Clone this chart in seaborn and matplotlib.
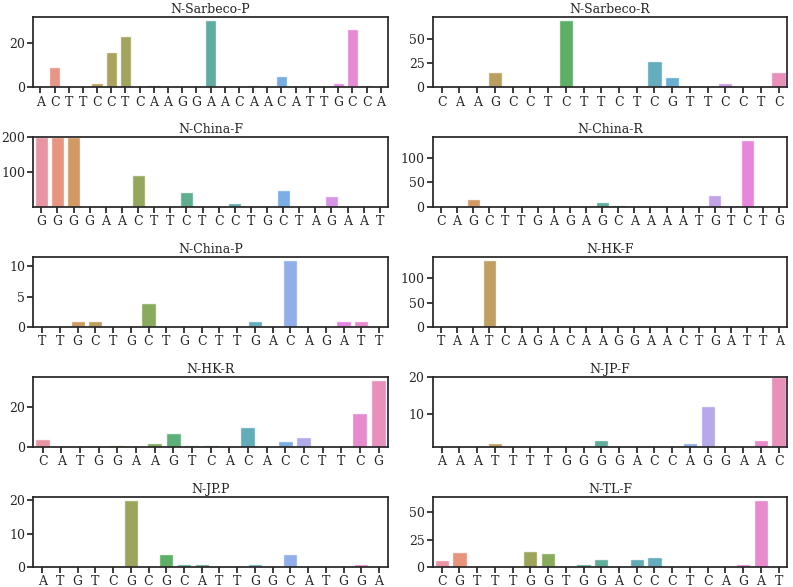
import pandas as pd
import matplotlib.pyplot as plt
from matplotlib.ticker import MaxNLocator
import seaborn as sns

# primer sequences and mismatch counts per position
sarbeco_p_seq = list("ACTTCCTCAAGGAACAACATTGCCA")
sarbeco_p_val = [0, 9, 0, 0, 2, 16, 23, 0, 1, 0, 0, 0, 30, 0, 0, 1, 0, 5, 0, 0, 0, 2, 26, 1, 0]

sarbeco_r_seq = list("CAAGCCTCTTCTCGTTCCTC")
sarbeco_r_val = [0, 0, 0, 16, 0, 1, 0, 69, 0, 0, 0, 0, 27, 11, 0, 1, 4, 0, 0, 16]

china_f_seq = list("GGGGAACTTCTCCTGCTAGAAT")
china_f_val = [200, 200, 200, 0, 0, 0, 92, 2, 0, 43, 0, 2, 12, 0, 0, 49, 0, 0, 33, 0, 0, 0]

china_r_seq = list("CAGCTTGAGAGCAAAATGTCTG")
china_r_val = [0, 0, 17, 3, 0, 0, 0, 0, 0, 0, 10, 4, 0, 0, 0, 0, 0, 24, 0, 135, 0, 3]

china_p_seq = list("TTGCTGCTGCTTGACAGATT")
china_p_val = [0, 0, 1, 1, 0, 0, 4, 0, 0, 0, 0, 0, 1, 0, 11, 0, 0, 1, 1, 0]

hk_f_seq = list("TAATCAGACAAGGAACTGATTA")
hk_f_val = [0, 0, 0, 137, 4, 0, 0, 0, 0, 0, 0, 0, 0, 0, 0, 0, 0, 0, 0, 0, 0, 0]

hk_r_seq = list("CATGGAAGTCACACCTTCG")
hk_r_val = [4, 0, 0, 0, 1, 0, 2, 7, 1, 1, 0, 10, 0, 3, 5, 0, 0, 17, 33]

jp_f_seq = list("AAATTTTGGGGACCAGGAAC")
jp_f_val = [0, 0, 0, 2, 0, 0, 0, 0, 0, 3, 0, 0, 0, 0, 2, 12, 0, 0, 3, 20]

jp_p_seq = list("ATGTCGCGCATTGGCATGGA")
jp_p_val = [0, 0, 0, 0, 0, 20, 0, 4, 1, 1, 0, 0, 1, 0, 4, 0, 0, 0, 1, 0]

tl_f_seq = list("CGTTTGGTGGACCCTCAGAT")
tl_f_val = [6, 14, 0, 0, 0, 15, 13, 0, 3, 7, 0, 7, 9.5, 0, 0, 0, 0, 3, 61, 0]

primers = [
    ("N-Sarbeco-P", sarbeco_p_seq, sarbeco_p_val, None),
    ("N-Sarbeco-R", sarbeco_r_seq, sarbeco_r_val, None),
    ("N-China-F", china_f_seq, china_f_val, (1, 200)),
    ("N-China-R", china_r_seq, china_r_val, None),
    ("N-China-P", china_p_seq, china_p_val, None),
    ("N-HK-F", hk_f_seq, hk_f_val, None),
    ("N-HK-R", hk_r_seq, hk_r_val, None),
    ("N-JP-F", jp_f_seq, jp_f_val, (1, 20)),
    ("N-JP.P", jp_p_seq, jp_p_val, None),
    ("N-TL-F", tl_f_seq, tl_f_val, None),
]

sns.set_theme(style="ticks")
plt.rcParams['font.family'] = ['DejaVu Serif']

fig, axes = plt.subplots(5, 2, figsize=(7.93, 5.87), dpi=100)
fig.subplots_adjust(left=0.042, right=0.993, top=0.971, bottom=0.034,
                    wspace=0.127, hspace=0.71)

for ax, (name, seq, vals, ylim) in zip(axes.flat, primers):
    df = pd.DataFrame({"pos": range(len(seq)), "count": vals})
    sns.barplot(data=df, x="pos", y="count", hue="pos",
                palette=sns.color_palette("husl", len(seq)),
                alpha=0.85, legend=False, ax=ax)
    ax.set_xticks(range(len(seq)))
    ax.set_xticklabels(seq)
    ax.set_title(name, fontsize=9, pad=3)
    ax.set_xlabel('')
    ax.set_ylabel('')
    ax.tick_params(labelsize=9, length=4, pad=2)
    ax.yaxis.set_major_locator(MaxNLocator(nbins=3, steps=[1, 2, 2.5, 5, 10]))
    if ylim is not None:
        ax.set_ylim(*ylim)

plt.savefig("out.png", dpi=100)
